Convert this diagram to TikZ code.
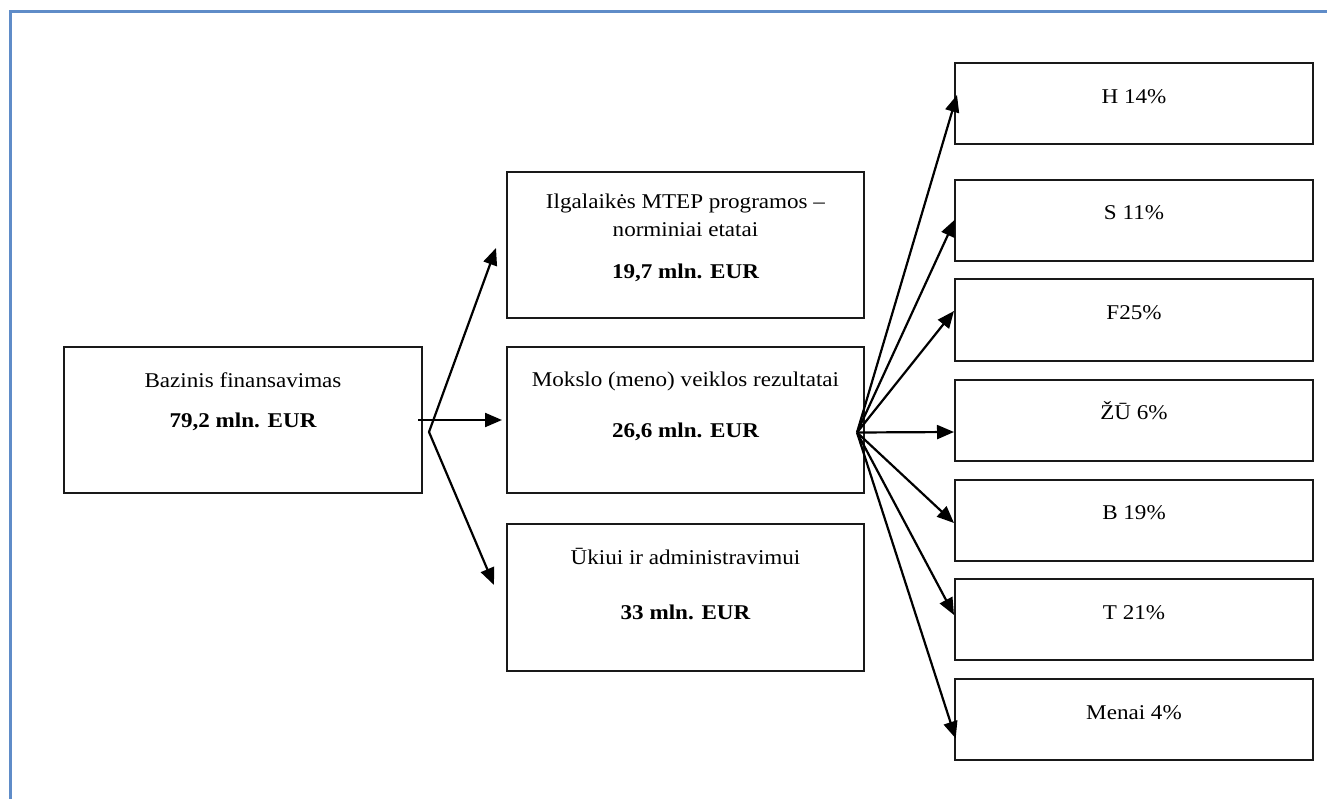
\documentclass[tikz,border=0pt]{standalone}
\usepackage{fontspec}
\setmainfont{Liberation Serif}[FakeStretch=1.1]
\usetikzlibrary{arrows.meta}
\definecolor{framecol}{RGB}{95,140,200}
\begin{document}
\begin{tikzpicture}[x=1pt,y=-1pt,
  box/.style={draw=black!90, line width=2pt, inner sep=0pt, rectangle},
  bigbox/.style={box, minimum width=357pt, minimum height=146pt},
  rbox/.style={box, minimum width=358pt, minimum height=81pt},
  txt/.style={anchor=base, inner sep=0pt, font=\fontsize{21}{25}\selectfont},
  btxt/.style={anchor=base, inner sep=0pt, font=\fontsize{21}{25}\selectfont\bfseries},
  arr/.style={line width=2.2pt, -{Triangle[length=17pt,width=14pt]}},
  arrtwo/.style={line width=2.2pt, line join=round, {Triangle[length=17pt,width=14pt]}-{Triangle[length=17pt,width=14pt]}},
  frame/.style={draw=framecol, line width=3pt}
]
\useasboundingbox (0,0) rectangle (1327,799);
\draw[frame] (10.5,799) -- (10.5,11.3) -- (1327,11.3);

% boxes
\node[box, minimum width=358pt, minimum height=146pt] (base) at (243,420) {};
\node[bigbox] (mtep) at (685.5,245) {};
\node[bigbox] (moks) at (685.5,420) {};
\node[bigbox, minimum height=147pt] (ukis) at (685.5,597.5) {};

\node[rbox] (H) at (1134,104) {};
\node[rbox] (S) at (1134,220.5) {};
\node[rbox] (F) at (1134,320) {};
\node[rbox] (ZU) at (1134,420) {};
\node[rbox] (B) at (1134,520) {};
\node[rbox] (T) at (1134,619.5) {};
\node[rbox] (M) at (1134,719.5) {};

% texts
\node[txt] (base1) at ([yshift=-41pt]base.north) {Bazinis finansavimas};
\node[btxt] (base2) at ([yshift=-81pt]base.north) {79,2 mln. EUR};

\node[txt] (mtep1) at ([yshift=-38pt]mtep.north) {Ilgalaikės MTEP programos –};
\node[txt] (mtep2) at ([yshift=-66pt]mtep.north) {norminiai etatai};
\node[btxt] (mtep3) at ([yshift=-108pt]mtep.north) {19,7 mln. EUR};

\node[txt] (moks1) at ([yshift=-40pt]moks.north) {Mokslo (meno) veiklos rezultatai};
\node[btxt] (moks2) at ([yshift=-91pt]moks.north) {26,6 mln. EUR};

\node[txt] (ukis1) at ([yshift=-41pt]ukis.north) {Ūkiui ir administravimui};
\node[btxt] (ukis2) at ([yshift=-96pt]ukis.north) {33 mln. EUR};

\node[txt] (Ht) at ([yshift=-41pt]H.north) {H 14\%};
\node[txt] (St) at ([yshift=-41pt]S.north) {S 11\%};
\node[txt] (Ft) at ([yshift=-41pt]F.north) {F25\%};
\node[txt] (ZUt) at ([yshift=-41pt]ZU.north) {ŽŪ 6\%};
\node[txt] (Bt) at ([yshift=-41pt]B.north) {B 19\%};
\node[txt] (Tt) at ([yshift=-41pt]T.north) {T 21\%};
\node[txt] (Mt) at ([yshift=-41pt]M.north) {Menai 4\%};

% left connectors
\coordinate (k) at (429,432);
\draw[arr] ([xshift=-5pt]base.east) -- ([xshift=-4pt]moks.west);
\draw[arrtwo] ([xshift=-10pt,yshift=-3pt]mtep.west) -- (k) -- ([xshift=-12pt,yshift=12.5pt]ukis.west);

% right fan
\coordinate (o) at (857,432.5);
\draw[arr] (o) -- ([xshift=3pt,yshift=9pt]H.west);
\draw[arr] (o) -- ([xshift=1pt,yshift=1pt]S.west);
\draw[arr] (o) -- ([yshift=9pt]F.west);
\draw[arr] (o) -- ([yshift=-12pt]ZU.west);
\draw[arr] (o) -- ([yshift=-3pt]B.west);
\draw[arr] (o) -- ([yshift=4.5pt]T.west);
\draw[arr] (o) -- ([xshift=1.7pt,yshift=-19pt]M.west);
\end{tikzpicture}
\end{document}
